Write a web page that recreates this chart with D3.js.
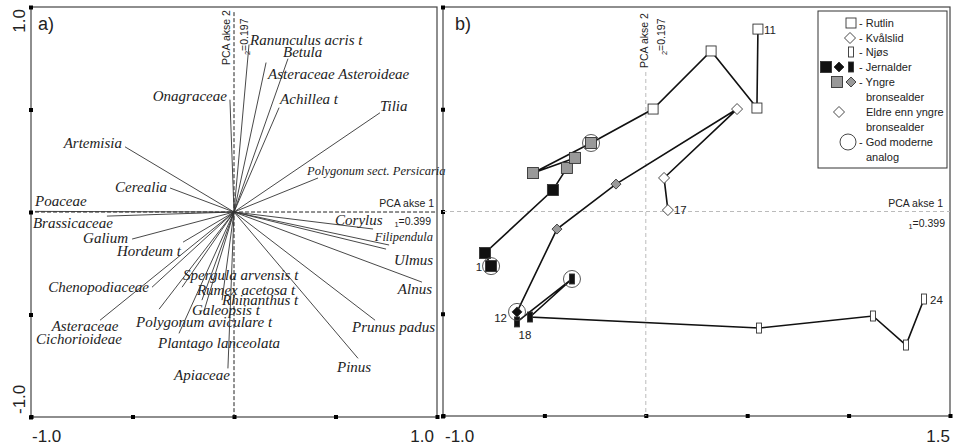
<!DOCTYPE html>
<html>
<head>
<meta charset="utf-8">
<script src="https://cdn.jsdelivr.net/npm/d3@7"></script>
<style>
  body { margin: 0; background: #fff; }
</style>
</head>
<body>
<svg class="chart" width="954" height="446"></svg>
<script>
/*
  DATA: species loadings (panel a) and sample scores (panel b)
*/
var species = ["Onagraceae", "Artemisia", "Cerealia", "Poaceae", "Brassicaceae", "Galium",
  "Hordeum t", "Chenopodiaceae", "Asteraceae Cichorioideae", "Spergula arvensis t",
  "Rumex acetosa t", "Rhinanthus  t", "Galeopsis t", "Polygonum aviculare t",
  "Plantago lanceolata", "Apiaceae", "Ranunculus acris t", "Betula", "Asteraceae Asteroideae",
  "Achillea t", "Tilia", "Polygonum sect. Persicaria", "Corylus", "Filipendula", "Ulmus",
  "Alnus", "Prunus padus", "Pinus"];
var loadX = [-0.020, -0.537, -0.315, -0.980, -0.626, -0.502,
  -0.251, -0.404, -0.660, -0.256,
  -0.158, -0.059, -0.148, -0.369,
  -0.271, -0.030, 0.074, 0.266, 0.158,
  0.222, 0.719, 0.414, 0.685, 0.764, 0.749,
  0.926, 0.695, 0.611];
var loadY = [0.548, 0.318, 0.117, 0.003, -0.020, -0.132,
  -0.147, -0.367, -0.528, -0.367,
  -0.430, -0.430, -0.484, -0.474,
  -0.592, -0.763, 0.817, 0.748, 0.729,
  0.509, 0.484, 0.166, -0.083, -0.161, -0.181,
  -0.342, -0.528, -0.714];

// Samples numbered from the top of each core
var sampleNo = [1, 2, 3, 4, 5, 6, 7, 8, 9, 10, 11, 12, 13, 14, 15, 16, 17, 18, 19, 20, 21, 22, 23, 24];
var sampleSite = ["Rutlin", "Rutlin", "Rutlin", "Rutlin", "Rutlin", "Rutlin", "Rutlin", "Rutlin",
  "Rutlin", "Rutlin", "Rutlin", "Kvålslid", "Kvålslid", "Kvålslid", "Kvålslid", "Kvålslid",
  "Kvålslid", "Njøs", "Njøs", "Njøs", "Njøs", "Njøs", "Njøs", "Njøs"];
// J = jernalder, Y = yngre bronsealder, E = eldre enn yngre bronsealder
var samplePeriod = ["J", "J", "J", "Y", "Y", "Y", "Y", "E", "E", "E", "E",
  "J", "Y", "Y", "E", "E", "E", "J", "J", "J", "E", "E", "E", "E"];
var sampleX = [-0.763, -0.793, -0.458, -0.389, -0.349, -0.556, -0.270, 0.036, 0.322, 0.548, 0.553,
  -0.635, -0.438, -0.147, 0.450, 0.090, 0.109,
  -0.635, -0.364, -0.571, 0.558, 1.120, 1.283, 1.372];
var sampleY = [-0.267, -0.203, 0.105, 0.213, 0.262, 0.188, 0.335, 0.501, 0.785, 0.506, 0.892,
  -0.491, -0.086, 0.134, 0.501, 0.164, 0.007,
  -0.540, -0.330, -0.516, -0.570, -0.511, -0.653, -0.428];
var analogues = [1, 7, 12, 19];
var endLabels = [1, 11, 12, 17, 18, 24];

var lambda1 = "0.399", lambda2 = "0.197";
var ticksA = [-1, -0.5, 0, 0.5, 1];
var ticksBx = [-1, -0.5, 0, 0.5, 1, 1.5];
var tickLabelsA = ["-1.0", "1.0"];
var tickLabelsB = ["-1.0", "1.5"];

/*
  SETUP
*/
var svg = d3.select(".chart");
var serif = "'Liberation Serif', 'Times New Roman', serif";
var sans = "'Liberation Sans', Arial, sans-serif";

var xa = d3.scaleLinear().domain([-1, 1]).range([31, 437]);
var ya = d3.scaleLinear().domain([-1, 1]).range([417, 7]);
var xb = d3.scaleLinear().domain([-1, 1.5]).range([443, 950]);
var yb = d3.scaleLinear().domain([-1, 1]).range([416, 7]);

// label placement for panel a: [anchor, dx, dy, size]
var labelLayout = {
  "Onagraceae": ["end", -3, 1], "Artemisia": ["end", -3, 1], "Cerealia": ["end", -3, 4],
  "Poaceae": ["start", 0, -5], "Brassicaceae": ["end", 6, 12], "Galium": ["end", -4, 4],
  "Hordeum t": ["end", -2, 14], "Chenopodiaceae": ["end", -3, 5],
  "Asteraceae Cichorioideae": ["middle", -18, 11],
  "Spergula arvensis t": ["start", 1, -7], "Rumex acetosa t": ["start", -5, -5],
  "Rhinanthus  t": ["start", 0, 5], "Galeopsis t": ["start", -12, 4],
  "Polygonum aviculare t": ["start", -23, 18], "Plantago lanceolata": ["start", -21, 15],
  "Apiaceae": ["end", 2, 12], "Ranunculus acris t": ["start", 1, 0], "Betula": ["start", -5, -2],
  "Asteraceae Asteroideae": ["start", 2, 16], "Achillea t": ["start", 1, -4],
  "Tilia": ["start", 0, -2], "Polygonum sect. Persicaria": ["start", -11, -3, 12.5],
  "Corylus": ["start", -38, -4], "Filipendula": ["end", 44, -4, 12.5], "Ulmus": ["end", 47, 16],
  "Alnus": ["end", 10, 12], "Prunus padus": ["start", -23, 12], "Pinus": ["start", -21, 14]
};

// Frame with square tick marks on the bottom and left edges
function drawFrame(x, y, xticks, yticks) {
  var x0 = x.range()[0], x1 = x.range()[1], y0 = y.range()[1], y1 = y.range()[0];
  svg.append("rect")
    .attr("x", x0).attr("y", y0)
    .attr("width", x1 - x0).attr("height", y1 - y0)
    .attr("fill", "none").attr("stroke", "#444").attr("stroke-width", 1.2);
  var gb = svg.append("g")
    .attr("transform", "translate(0," + y1 + ")")
    .call(d3.axisBottom(x).tickValues(xticks).tickSize(0).tickFormat(""));
  var gl = svg.append("g")
    .attr("transform", "translate(" + x0 + ",0)")
    .call(d3.axisLeft(y).tickValues(yticks).tickSize(0).tickFormat(""));
  [gb, gl].forEach(function(g) {
    g.select(".domain").remove();
    g.selectAll(".tick").append("rect")
      .attr("x", -2).attr("y", -2).attr("width", 4).attr("height", 4)
      .attr("fill", "#000");
  });
}

function txt(x, y, s, size, anchor, family) {
  return svg.append("text")
    .attr("x", x).attr("y", y)
    .attr("font-family", family || sans)
    .attr("font-size", size)
    .attr("text-anchor", anchor || "start")
    .attr("fill", "#222")
    .text(s);
}

// rotated axis label with a subscript eigenvalue
function rotLabel(x, y, s, sub, size) {
  var t = svg.append("text")
    .attr("transform", "translate(" + x + "," + y + ") rotate(-90)")
    .attr("font-family", sans).attr("font-size", size).attr("fill", "#222");
  if (sub) {
    t.append("tspan").attr("font-size", size * 0.7).attr("dy", 2).text(sub);
    t.append("tspan").attr("dy", -2).text(s);
  } else {
    t.text(s);
  }
  return t;
}

function subLabel(x, y, sub, s, size) {
  var t = svg.append("text")
    .attr("x", x).attr("y", y)
    .attr("font-family", sans).attr("font-size", size).attr("fill", "#222")
    .attr("text-anchor", "end");
  t.append("tspan").attr("font-size", size * 0.7).attr("dy", 2).text(sub);
  t.append("tspan").attr("dy", -2).text(s);
}

/*
  PANEL A
*/
drawFrame(xa, ya, ticksA, ticksA);

svg.append("line")
  .attr("x1", xa(-0.98)).attr("x2", xa(1)).attr("y1", ya(0)).attr("y2", ya(0))
  .attr("stroke", "#222").attr("stroke-dasharray", "4,2");
svg.append("line")
  .attr("x1", xa(0)).attr("x2", xa(0)).attr("y1", ya(0.975)).attr("y2", ya(-1))
  .attr("stroke", "#222").attr("stroke-dasharray", "4,2");

var vec = svg.append("g").attr("class", "vectors");
species.forEach(function(name, i) {
  var ex = xa(loadX[i]), ey = ya(loadY[i]);
  vec.append("line")
    .attr("x1", xa(0)).attr("y1", ya(0)).attr("x2", ex).attr("y2", ey)
    .attr("stroke", "#333").attr("stroke-width", 0.9);
  var lay = labelLayout[name];
  var t = vec.append("text")
    .attr("x", ex + lay[1]).attr("y", ey + lay[2])
    .attr("text-anchor", lay[0])
    .attr("font-family", serif).attr("font-style", "italic")
    .attr("font-size", lay[3] || 15)
    .attr("fill", "#222");
  if (name == "Asteraceae Cichorioideae") {
    t.append("tspan").attr("x", ex + lay[1] + 3).text("Asteraceae");
    t.append("tspan").attr("x", ex + lay[1] - 3).attr("dy", 13).text("Cichorioideae");
  } else {
    t.text(name);
  }
});

txt(xa(1) - 3, ya(0) - 5, "PCA akse 1", 10.5, "end");
subLabel(xa(1) - 6, ya(0) + 13, "1", "=" + lambda1, 10.5);
rotLabel(230, 65, "PCA akse 2", null, 10.5);
rotLabel(248, 55, "=" + lambda2, "2", 10.5);

txt(38, 30, "a)", 18);
txt(xa(-1) + 1, 442, tickLabelsA[0], 17, "start");
txt(xa(1) - 3, 442, tickLabelsA[1], 17, "end");
svg.append("text").attr("transform", "translate(25," + (ya(1) + 2) + ") rotate(-90)")
  .attr("font-family", sans).attr("font-size", 17).attr("fill", "#222")
  .attr("text-anchor", "end").text(tickLabelsA[1]);
svg.append("text").attr("transform", "translate(25," + (ya(-1) - 3) + ") rotate(-90)")
  .attr("font-family", sans).attr("font-size", 17).attr("fill", "#222")
  .attr("text-anchor", "start").text(tickLabelsA[0]);

/*
  PANEL B
*/
drawFrame(xb, yb, ticksBx, ticksA);

svg.append("line")
  .attr("x1", xb(-1)).attr("x2", xb(1.5)).attr("y1", yb(0)).attr("y2", yb(0))
  .attr("stroke", "#bbb").attr("stroke-dasharray", "4,3");
svg.append("line")
  .attr("x1", xb(0)).attr("x2", xb(0)).attr("y1", 72).attr("y2", yb(-1))
  .attr("stroke", "#bbb").attr("stroke-dasharray", "4,3");

txt(943, yb(0) - 5, "PCA akse 1", 10.5, "end");
subLabel(945, yb(0) + 15, "1", "=" + lambda1, 10.5);
rotLabel(648, 68, "PCA akse 2", null, 10.5);
rotLabel(665, 55, "=" + lambda2, "2", 10.5);
txt(455, 30, "b)", 18);
txt(xb(-1) + 2, 442, tickLabelsB[0], 17, "start");
txt(xb(1.5), 442, tickLabelsB[1], 17, "end");

var samples = sampleNo.map(function(n, i) {
  return {no: n, site: sampleSite[i], period: samplePeriod[i], x: sampleX[i], y: sampleY[i]};
});

// trajectories
var line = d3.line()
  .x(function(d) { return xb(d.x); })
  .y(function(d) { return yb(d.y); });
["Rutlin", "Kvålslid", "Njøs"].forEach(function(site) {
  svg.append("path")
    .datum(samples.filter(function(d) { return d.site == site; }))
    .attr("d", line)
    .attr("fill", "none").attr("stroke", "#111").attr("stroke-width", 1.6);
});

var fills = {J: "#111", Y: "#999", E: "#fff"};

function drawMarker(g, site, period, cx, cy) {
  var m;
  if (site == "Rutlin") {
    var s = period == "E" ? 10 : 11;
    m = g.append("rect").attr("x", cx - s / 2).attr("y", cy - s / 2).attr("width", s).attr("height", s);
  } else if (site == "Kvålslid") {
    var r = period == "E" ? 5.5 : 5;
    m = g.append("path")
      .attr("d", "M" + cx + "," + (cy - r) + "L" + (cx + r) + "," + cy + "L" + cx + "," + (cy + r) + "L" + (cx - r) + "," + cy + "Z");
  } else {
    m = g.append("rect").attr("x", cx - 2.5).attr("y", cy - 5).attr("width", 5).attr("height", 10);
  }
  m.attr("fill", fills[period]).attr("stroke", "#333").attr("stroke-width", 0.9);
}

var marks = svg.append("g").attr("class", "samples");
samples.forEach(function(d) {
  drawMarker(marks, d.site, d.period, xb(d.x), yb(d.y));
});

samples.filter(function(d) { return analogues.indexOf(d.no) >= 0; }).forEach(function(d) {
  marks.append("circle")
    .attr("cx", xb(d.x)).attr("cy", yb(d.y)).attr("r", 8.5)
    .attr("fill", "none").attr("stroke", "#444").attr("stroke-width", 0.9);
});

// number labels at the ends of each core
var numOffset = {1: ["end", -9, 5], 11: ["start", 6, 5], 12: ["end", -10, 10],
  17: ["start", 6, 4], 18: ["middle", 8, 17], 24: ["start", 6, 5]};
samples.filter(function(d) { return endLabels.indexOf(d.no) >= 0; }).forEach(function(d) {
  var o = numOffset[d.no];
  txt(xb(d.x) + o[1], yb(d.y) + o[2], d.no, 11.5, o[0]);
});

/*
  LEGEND
*/
var legend = svg.append("g").attr("class", "legend");
legend.append("rect")
  .attr("x", 818).attr("y", 11).attr("width", 129).attr("height", 157)
  .attr("fill", "#fff").attr("stroke", "#333").attr("stroke-width", 1);

var legendRows = [
  {y: 27, marks: [["Rutlin", "E", 851]], lines: ["- Rutlin"]},
  {y: 42, marks: [["Kvålslid", "E", 850]], lines: ["- Kvålslid"]},
  {y: 56, marks: [["Njøs", "E", 851]], lines: ["- Njøs"]},
  {y: 71, marks: [["Rutlin", "J", 826], ["Kvålslid", "J", 839], ["Njøs", "J", 851]], lines: ["- Jernalder"]},
  {y: 86, marks: [["Rutlin", "Y", 837], ["Kvålslid", "Y", 851]], lines: ["- Yngre", "bronsealder"]},
  {y: 116, marks: [["Kvålslid", "E", 839]], lines: ["Eldre enn yngre", "bronsealder"], plain: true},
  {y: 146, marks: [["circle", "", 848]], lines: ["- God moderne", "analog"]}
];
legendRows.forEach(function(row) {
  row.marks.forEach(function(m) {
    if (m[0] == "circle") {
      legend.append("circle").attr("cx", m[2]).attr("cy", row.y - 4).attr("r", 8)
        .attr("fill", "none").attr("stroke", "#333").attr("stroke-width", 0.9);
    } else {
      drawMarker(legend, m[0], m[1], m[2], row.y - 4);
    }
  });
  row.lines.forEach(function(s, j) {
    var x = (j == 0 && !row.plain) ? 859 : 866;
    legend.append("text")
      .attr("x", x).attr("y", row.y + j * 15)
      .attr("font-family", sans).attr("font-size", 11).attr("fill", "#222")
      .text(s);
  });
});
</script>
</body>
</html>
